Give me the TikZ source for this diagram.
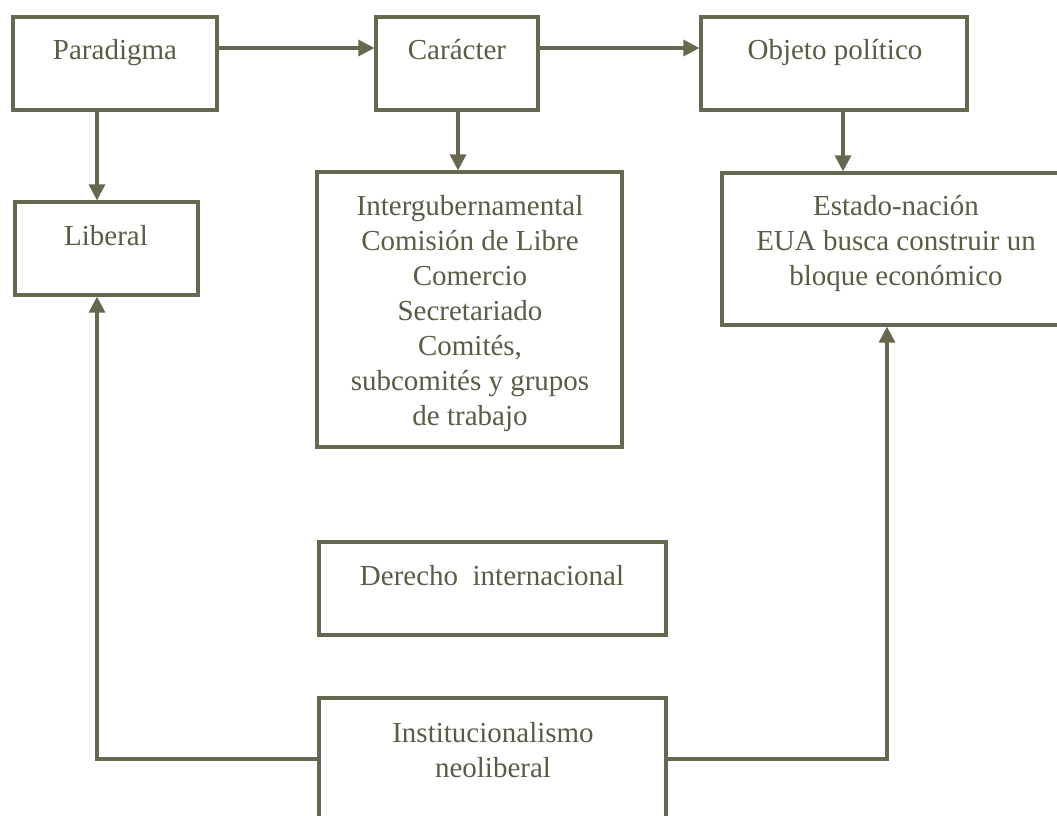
\documentclass[tikz,border=0pt]{standalone}
\usepackage{fontspec}
\setmainfont{Liberation Serif}
\usetikzlibrary{arrows.meta}
\definecolor{ink}{RGB}{104,104,80}
\definecolor{txtc}{RGB}{92,92,70}
\tikzset{
  box/.style={draw=ink, line width=3.2pt, rectangle, inner sep=0pt, fill=white},
  txt/.style={text=txtc, align=center, inner sep=0pt, anchor=base, font=\fontsize{29}{35}\selectfont},
  arr/.style={draw=ink, line width=3.2pt, -{Triangle[width=16pt,length=16pt]}},
  ln/.style={draw=ink, line width=3.2pt}
}
\begin{document}
\begin{tikzpicture}[x=1pt,y=-1pt]
\useasboundingbox (0,0) rectangle (1057,815);
\clip (0,0) rectangle (1057,815);
% boxes
\node[box, minimum width=204pt, minimum height=93pt] (par) at (115,63.5) {};
\node[box, minimum width=162pt, minimum height=93pt] (car) at (457,63.5) {};
\node[box, minimum width=266pt, minimum height=93pt] (obj) at (834,63.5) {};
\node[box, minimum width=183pt, minimum height=93pt] (lib) at (106.5,248.5) {};
\node[box, minimum width=305pt, minimum height=275pt] (int) at (469.5,309.5) {};
\node[box, minimum width=350pt, minimum height=152pt] (est) at (897,249) {};
\node[box, minimum width=347pt, minimum height=93pt] (der) at (492.5,588.5) {};
\node[box, minimum width=347pt, minimum height=164pt] (ins) at (492.5,780) {};
% texts
\node[txt] (tpar) at (115,59) {Paradigma};
\node[txt] (tcar) at (457,59) {Carácter};
\node[txt] (tobj) at (835,59) {Objeto político};
\node[txt] (tlib) at (106,245) {Liberal};
\node[txt] (tint) at (470,425) {Intergubernamental\\Comisión de Libre\\Comercio\\Secretariado\\Comités,\\subcomités y grupos\\de trabajo};
\node[txt] (test) at (896,285) {Estado-nación\\EUA busca construir un\\bloque económico};
\node[txt] (tder) at (492,585) {Derecho\ \ internacional};
\node[txt] (tins) at (493,777) {Institucionalismo\\neoliberal};
% connectors
\draw[arr] ([yshift=15.5pt]par.east) -- ([yshift=15.5pt]car.west);
\draw[arr] ([yshift=15.5pt]car.east) -- ([yshift=15.5pt]obj.west);
\draw[arr] ([xshift=-18pt]par.south) -- ([xshift=-9.5pt]lib.north);
\draw[arr] ([xshift=1pt]car.south) -- ([xshift=-11.5pt]int.north);
\draw[arr] ([xshift=9pt]obj.south) -- ([xshift=-54pt]est.north);
\draw[arr] ([yshift=21pt]ins.west) -| ([xshift=-9.5pt]lib.south);
\draw[arr] ([yshift=21pt]ins.east) -| ([xshift=-10pt]est.south);
\end{tikzpicture}
\end{document}
